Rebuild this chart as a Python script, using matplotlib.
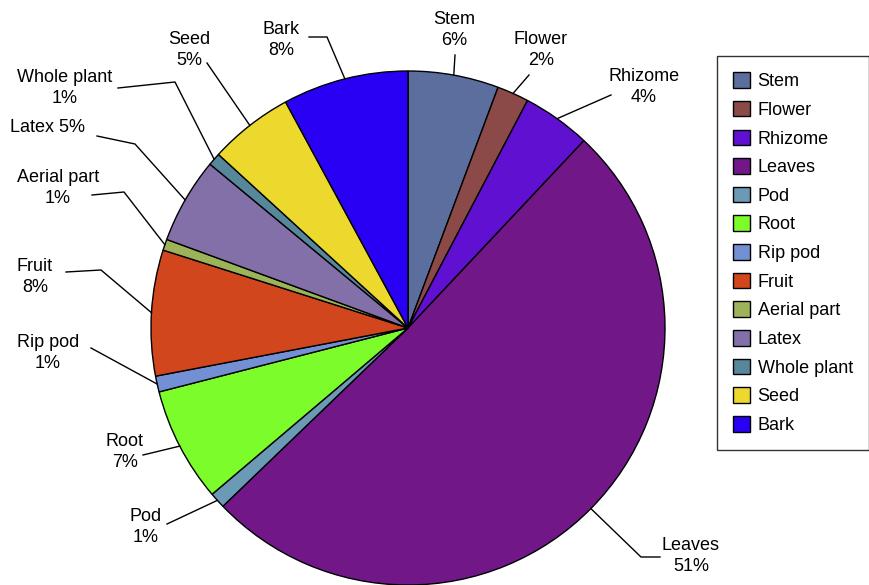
import numpy as np
import matplotlib.pyplot as plt

plt.rcParams['font.family'] = ['Liberation Sans', 'DejaVu Sans']

# data (share of reports, %)
parts = ['Stem', 'Flower', 'Rhizome', 'Leaves', 'Pod', 'Root', 'Rip pod',
         'Fruit', 'Aerial part', 'Latex', 'Whole plant', 'Seed', 'Bark']
shares = [5.7, 2.0, 4.3, 50.8, 1.0, 7.2, 1.0, 7.9, 0.7, 5.4, 0.8, 5.3, 7.9]
pct_labels = ['6%', '2%', '4%', '51%', '1%', '7%', '1%',
              '8%', '1%', '5%', '1%', '5%', '8%']
colors = ['#5b6e9e', '#8b4a48', '#6010d0', '#721788', '#6a9ab5', '#7cfc2a',
          '#7390d5', '#d2461e', '#9cb35a', '#8470a8', '#57879b', '#edd92e',
          '#2a00f5']

# label layout in pixel coords (x, y from top): text centre, elbow (or None), line end
text_pos = [(454, 30), (541, 50), (644, 87), (691, 556), (146, 527), (125, 452),
            (48, 353), (35, 277), (58, 188), (48, 128), (65, 88), (189, 50), (281, 40)]
elbows = [None, None, None, (641, 557), None, None, None,
          (101, 270), (124, 192), (135, 144), (175, 82), None, (327, 37)]
line_ends = [(455, 55), (529, 75), (611, 95), (660, 557), (167, 524), (143, 455),
             (91, 348), (66, 272), (92, 195), (97, 136), (118, 88), (207, 63), (309, 37)]

W, H = 870, 585
fig = plt.figure(figsize=(W / 100, H / 100), dpi=100)
ax = fig.add_axes([0, 0, 1, 1])

cx, cy, R = 408, H - 328, 257
wedges, _ = ax.pie(shares, colors=colors, startangle=90, counterclock=False,
                   center=(cx, cy), radius=R, frame=True,
                   wedgeprops=dict(edgecolor='black', linewidth=1))
ax.set_xlim(0, W)
ax.set_ylim(0, H)
ax.set_aspect('equal')
ax.axis('off')

for i, w in enumerate(wedges):
    mid = np.deg2rad((w.theta1 + w.theta2) / 2)
    sx, sy = cx + R * np.cos(mid), cy + R * np.sin(mid)
    pts = [(sx, sy)]
    if elbows[i] is not None:
        pts.append((elbows[i][0], H - elbows[i][1]))
    pts.append((line_ends[i][0], H - line_ends[i][1]))
    xs, ys = zip(*pts)
    ax.plot(xs, ys, color='black', lw=1)
    if parts[i] == 'Latex':
        txt = parts[i] + ' ' + pct_labels[i]
    else:
        txt = parts[i] + '\n' + pct_labels[i]
    ax.text(text_pos[i][0], H - text_pos[i][1], txt, ha='center', va='center',
            fontsize=13, linespacing=1.3)

leg = ax.legend(wedges, parts, loc='upper left',
                bbox_to_anchor=(717 / W, 1 - 56 / H), bbox_transform=fig.transFigure,
                borderaxespad=0, fontsize=13, frameon=True, fancybox=False,
                edgecolor='black', handlelength=0.95, handleheight=0.95,
                handletextpad=0.4, labelspacing=0.59, borderpad=0.9)
leg.get_frame().set_linewidth(1)

fig.savefig('out.png', dpi=100)
